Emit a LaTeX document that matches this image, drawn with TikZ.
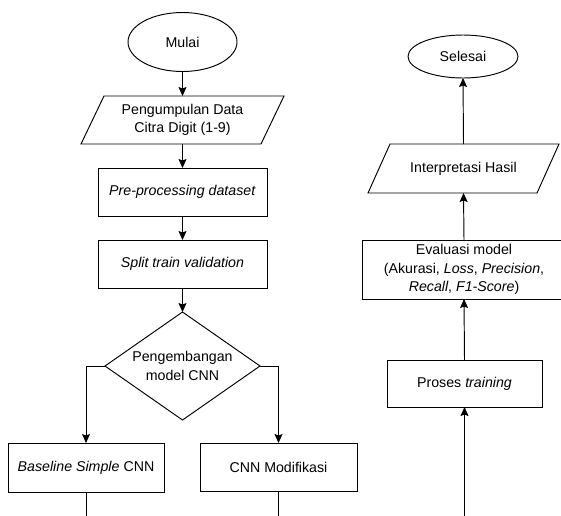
\documentclass[tikz,border=0pt]{standalone}
\usepackage{fontspec}
\setmainfont{Liberation Sans}
\usetikzlibrary{shapes.geometric,arrows.meta}
\begin{document}
\begin{tikzpicture}[x=1pt,y=-1pt,
  every node/.style={font=\fontsize{14.2}{18.5}\selectfont, align=center, inner sep=0pt, outer sep=0pt},
  line/.style={line width=0.95pt, draw=black},
  arr/.style={line, -{Stealth[length=9pt,width=8pt,inset=1.5pt]}},
  box/.style={rectangle, line, minimum width=#1},
  term/.style={ellipse, line},
  para/.style={rectangle, draw=none, minimum width=203pt, minimum height=48pt}
]
\useasboundingbox (0,0) rectangle (561,515);
\clip (0,0) rectangle (561,515);

% left column
\node[term, minimum width=109pt, minimum height=59pt] (mulai) at (182.5,42) {Mulai};
\node[para] (kumpul) at (182.5,120) {Pengumpulan Data\\Citra Digit (1-9)};
\draw[line] ([xshift=23pt]kumpul.north west) -- (kumpul.north east)
      -- ([xshift=-23pt]kumpul.south east) -- (kumpul.south west) -- cycle;
\node[box=169pt, minimum height=48pt] (pre) at (182.5,192) {\textit{Pre-processing dataset}};
\node[box=169pt, minimum height=48pt] (split) at (182.5,264) {\textit{Split train validation}};
\node[diamond, line, minimum width=155pt, minimum height=108pt, shape aspect=1.435, inner sep=0pt] (dev) at (182.5,366) {};
\node (devtext) at (dev.center) {Pengembangan\\model CNN};
\node[box=156pt, minimum height=49pt] (base) at (86,467.5) {\textit{Baseline Simple} CNN};
\node[box=157pt, minimum height=48pt] (mod) at (278.5,467) {CNN Modifikasi};

\coordinate (baseend) at (base.south |- 0,525);
\coordinate (modend) at (mod.south |- 0,525);

\draw[arr] (mulai) -- (kumpul.north);
\draw[arr] (kumpul.south) -- (pre);
\draw[arr] (pre) -- (split);
\draw[arr] (split) -- (dev.north);
\draw[arr] (dev.west) -| (base.north);
\draw[arr] (dev.east) -| (mod.north);
\draw[line] (base.south) -- (baseend);
\draw[line] (mod.south) -- (modend);

% right column
\node[term, minimum width=110pt, minimum height=43pt] (selesai) at (463,56.5) {Selesai};
\node[para, minimum width=191pt, minimum height=49pt] (interp) at (463.5,168.5) {Interpretasi Hasil};
\draw[line] ([xshift=22pt]interp.north west) -- (interp.north east)
      -- ([xshift=-22pt]interp.south east) -- (interp.south west) -- cycle;
\node[box=204pt, minimum height=59pt] (eval) at (464,269.5) {Evaluasi model\\(Akurasi, \textit{Loss}, \textit{Precision},\\\textit{Recall}, \textit{F1-Score})};
\node[box=155pt, minimum height=47pt] (train) at (464.5,383.5) {Proses \textit{training}};
\coordinate (trainstart) at (train.south |- 0,525);

\draw[arr] (trainstart) -- (train.south);
\draw[arr] (train.north) -- (eval.south);
\draw[arr] (eval.north) -- (interp.south);
\draw[arr] (interp.north) -- (selesai.south);
\end{tikzpicture}
\end{document}
